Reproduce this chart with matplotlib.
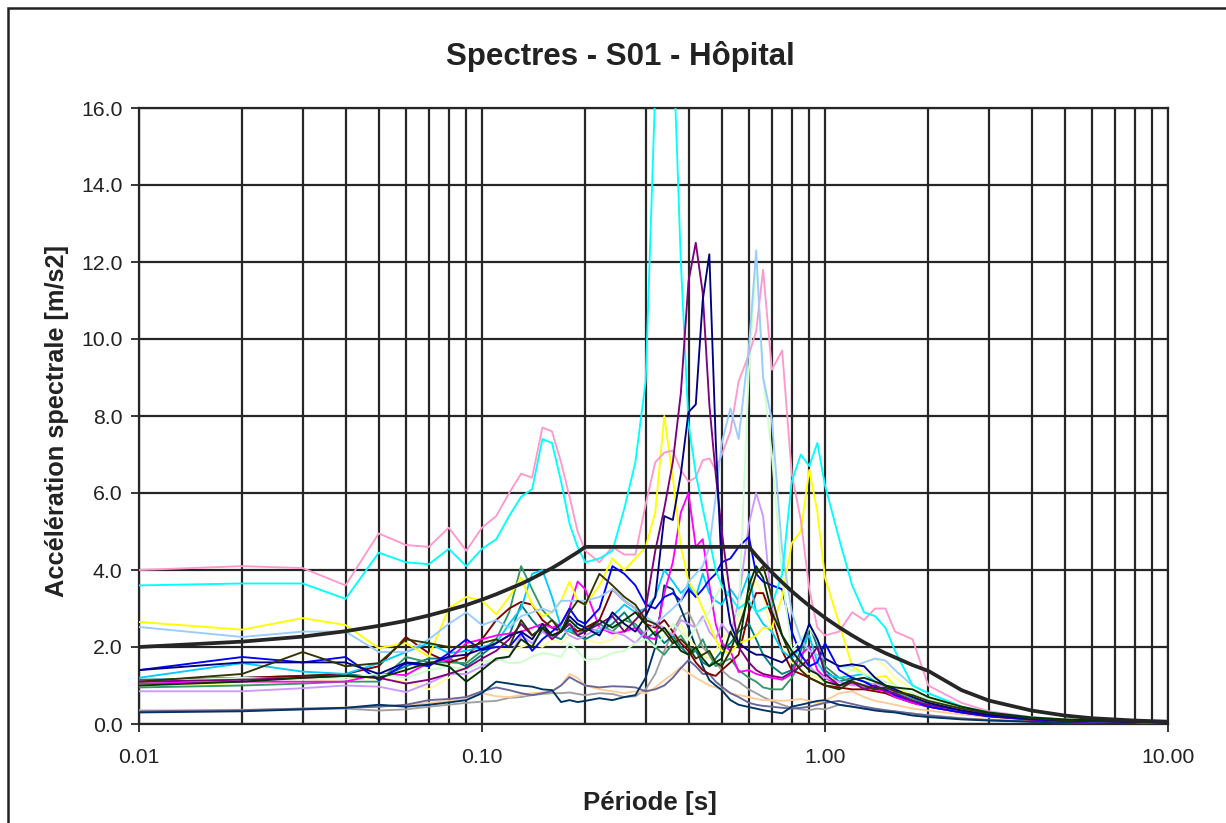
import matplotlib
matplotlib.use("Agg")
import matplotlib.pyplot as plt
from matplotlib.patches import Rectangle
from matplotlib.ticker import FixedLocator, FormatStrFormatter, NullFormatter

plt.rcParams['font.family'] = ['Liberation Sans', 'DejaVu Sans']

# périodes communes [s]
periods = [0.01, 0.02, 0.03, 0.04, 0.05, 0.06, 0.07, 0.08, 0.09, 0.10,
           0.11, 0.12, 0.13, 0.14, 0.15, 0.16, 0.17, 0.18, 0.19, 0.20,
           0.22, 0.24, 0.26, 0.28, 0.30, 0.32, 0.34, 0.36, 0.38, 0.40,
           0.42, 0.44, 0.46, 0.48, 0.50, 0.53, 0.56, 0.60, 0.63, 0.66,
           0.70, 0.75, 0.80, 0.85, 0.90, 0.95, 1.00, 1.10, 1.20, 1.30,
           1.40, 1.50, 1.60, 1.80, 2.00, 2.50, 3.00, 4.00, 5.00, 6.00, 8.00, 10.0]

# spectre de dimensionnement
design = [2.00, 2.14, 2.27, 2.41, 2.55, 2.68, 2.82, 2.96, 3.09, 3.23,
          3.37, 3.51, 3.64, 3.78, 3.92, 4.05, 4.19, 4.33, 4.46, 4.60,
          4.60, 4.60, 4.60, 4.60, 4.60, 4.60, 4.60, 4.60, 4.60, 4.60,
          4.60, 4.60, 4.60, 4.60, 4.60, 4.60, 4.60, 4.60, 4.38, 4.18,
          3.94, 3.68, 3.45, 3.25, 3.07, 2.91, 2.76, 2.51, 2.30, 2.12,
          1.97, 1.84, 1.73, 1.53, 1.38, 0.88, 0.61, 0.35, 0.22, 0.15, 0.09, 0.06]

# spectres des accélérogrammes
sa_pink = [4.0, 4.1, 4.05, 3.6, 4.95, 4.65, 4.6, 5.1, 4.5, 5.1,
           5.4, 6.0, 6.5, 6.4, 7.7, 7.6, 6.8, 5.9, 5.0, 4.5,
           4.2, 4.6, 4.4, 4.4, 5.7, 6.8, 7.05, 7.1, 6.6, 6.3,
           6.4, 6.85, 6.9, 6.6, 7.0, 7.6, 8.9, 9.6, 10.2, 11.8,
           9.2, 9.7, 6.5, 5.3, 3.5, 2.5, 2.3, 2.4, 2.9, 2.7,
           3.0, 3.0, 2.4, 2.2, 1.0, 0.55, 0.33, 0.18, 0.12, 0.09, 0.06, 0.04]
sa_cyan = [3.6, 3.65, 3.65, 3.25, 4.45, 4.2, 4.15, 4.55, 4.1, 4.55,
           4.8, 5.4, 5.9, 6.1, 7.4, 7.3, 6.3, 5.2, 4.6, 4.2,
           4.3, 4.5, 5.6, 6.8, 8.9, 16.5, 19.0, 18.0, 12.0, 7.8,
           6.5, 5.6, 4.8, 4.0, 3.6, 3.3, 3.0, 3.2, 2.9, 3.0,
           3.1, 3.9, 6.3, 7.0, 6.7, 7.3, 6.2, 4.8, 3.6, 2.9,
           2.8, 2.5, 1.9, 1.0, 0.8, 0.45, 0.3, 0.17, 0.11, 0.08, 0.05, 0.04]
sa_yellow = [2.65, 2.45, 2.75, 2.57, 1.97, 2.1, 1.75, 3.0, 3.3, 3.2,
             2.85, 3.3, 3.8, 3.1, 2.8, 2.9, 3.2, 3.7, 3.2, 3.1,
             3.6, 4.3, 4.0, 4.3, 4.6, 5.5, 8.0, 6.4, 4.6, 3.7,
             3.4, 3.0, 2.6, 2.2, 1.9, 1.85, 2.1, 2.2, 2.3, 2.5,
             2.5, 3.3, 4.7, 5.0, 6.6, 5.5, 3.8, 2.6, 1.5, 1.3,
             1.2, 1.25, 1.0, 0.7, 0.6, 0.4, 0.28, 0.16, 0.1, 0.08, 0.05, 0.04]
sa_lightblue = [2.52, 2.26, 2.4, 2.4, 1.87, 1.87, 2.2, 2.6, 2.9, 2.57,
                2.7, 2.5, 2.8, 2.9, 3.0, 2.9, 3.2, 3.2, 3.2, 3.2,
                3.3, 3.5, 3.2, 3.0, 2.8, 2.6, 2.8, 3.0, 3.2, 3.7,
                3.9, 4.1, 4.6, 5.9, 7.3, 8.2, 7.4, 9.8, 12.3, 9.0,
                7.9, 4.5, 2.9, 2.2, 1.9, 1.8, 1.7, 1.5, 1.5, 1.6,
                1.7, 1.65, 1.4, 1.0, 0.8, 0.45, 0.3, 0.15, 0.1, 0.07, 0.05, 0.03]
sa_purple = [1.1, 1.15, 1.2, 1.25, 1.2, 1.05, 1.15, 1.3, 1.45, 1.7,
             1.9, 2.2, 2.6, 2.3, 2.5, 2.2, 2.4, 2.6, 2.3, 2.4,
             2.6, 2.8, 2.4, 2.7, 3.0, 4.5, 5.6, 6.8, 8.6, 11.5,
             12.5, 11.2, 8.3, 6.5, 5.0, 3.3, 2.0, 1.6, 1.4, 1.3,
             1.25, 1.2, 1.35, 1.5, 1.7, 2.0, 1.3, 1.0, 1.1, 0.9,
             1.0, 0.85, 0.8, 0.6, 0.5, 0.35, 0.25, 0.14, 0.09, 0.07, 0.05, 0.03]
sa_navy = [1.4, 1.6, 1.6, 1.6, 1.3, 1.6, 1.55, 1.75, 1.8, 1.95,
           2.1, 2.3, 2.4, 2.2, 2.6, 2.3, 2.4, 2.8, 2.6, 2.5,
           2.3, 2.9, 2.6, 2.4, 2.8, 3.3, 5.4, 5.3, 6.5, 8.1,
           8.3, 11.0, 12.2, 7.4, 4.0, 2.6, 2.1, 1.9, 1.8, 1.8,
           1.7, 1.6, 1.8, 2.0, 2.6, 2.2, 1.7, 1.5, 1.55, 1.5,
           1.2, 1.0, 0.9, 0.7, 0.55, 0.35, 0.24, 0.13, 0.09, 0.07, 0.05, 0.03]
sa_lavender = [0.85, 0.85, 0.93, 1.0, 0.97, 0.83, 1.06, 1.3, 1.3, 1.5,
               1.66, 1.74, 2.3, 2.1, 2.4, 2.2, 2.5, 2.3, 2.2, 2.3,
               2.5, 2.4, 2.3, 2.1, 2.4, 2.6, 2.5, 2.3, 2.7, 2.6,
               2.5, 2.8, 2.4, 2.2, 2.6, 2.3, 3.2, 5.2, 6.0, 5.4,
               3.0, 2.3, 1.9, 1.6, 1.5, 1.3, 1.2, 1.1, 1.0, 1.0,
               1.05, 0.95, 0.8, 0.6, 0.5, 0.35, 0.25, 0.14, 0.1, 0.07, 0.05, 0.04]
sa_magenta = [1.05, 1.1, 1.1, 1.1, 1.3, 1.27, 1.6, 1.66, 2.1, 2.2,
              2.3, 2.35, 2.4, 2.5, 2.6, 2.5, 2.6, 3.0, 3.7, 3.5,
              2.5, 2.35, 2.4, 2.5, 2.26, 2.2, 3.4, 4.2, 5.5, 6.0,
              4.6, 4.8, 3.6, 2.6, 2.1, 1.9, 1.35, 1.4, 1.3, 1.25,
              1.2, 1.15, 1.3, 1.8, 2.0, 1.4, 1.2, 1.0, 1.05, 0.95,
              0.9, 0.85, 0.7, 0.55, 0.45, 0.3, 0.22, 0.12, 0.08, 0.06, 0.04, 0.03]
sa_blue = [1.4, 1.74, 1.6, 1.74, 1.14, 1.58, 1.5, 1.84, 2.2, 1.92,
           2.0, 2.0, 2.36, 1.9, 2.2, 2.4, 2.6, 3.0, 2.7, 2.6,
           3.0, 4.1, 3.9, 3.6, 3.1, 3.0, 3.3, 3.4, 3.2, 3.5,
           3.3, 3.5, 3.74, 3.9, 4.2, 4.3, 4.6, 4.86, 3.9, 3.7,
           3.6, 3.5, 2.4, 1.8, 1.5, 1.6, 2.1, 1.4, 1.2, 1.1,
           0.95, 0.9, 0.75, 0.6, 0.45, 0.3, 0.2, 0.12, 0.08, 0.06, 0.04, 0.03]
sa_olive = [1.1, 1.3, 1.87, 1.5, 1.58, 2.2, 2.1, 2.0, 2.0, 2.1,
            2.2, 2.0, 2.7, 2.3, 2.5, 2.7, 2.4, 2.9, 3.2, 3.1,
            3.9, 3.6, 3.3, 3.1, 2.7, 2.6, 2.4, 2.1, 2.2, 2.0,
            1.7, 1.8, 1.9, 1.6, 1.5, 1.9, 2.5, 3.3, 3.9, 4.1,
            3.3, 2.3, 1.7, 1.4, 1.2, 1.1, 1.0, 0.9, 1.1, 1.0,
            0.9, 0.95, 0.85, 0.75, 0.6, 0.4, 0.28, 0.15, 0.1, 0.08, 0.06, 0.05]
sa_darkgreen = [1.0, 1.1, 1.2, 1.25, 1.2, 1.4, 1.6, 1.5, 1.1, 1.4,
                1.7, 1.75, 2.2, 2.0, 2.5, 2.3, 2.4, 2.7, 2.5, 2.4,
                2.7, 2.5, 2.7, 2.9, 2.6, 2.3, 2.5, 2.2, 1.9, 1.8,
                2.0, 1.7, 1.5, 1.6, 1.7, 2.4, 2.0, 3.6, 4.1, 3.8,
                2.9, 2.3, 1.9, 1.6, 1.4, 1.3, 1.1, 1.0, 1.15, 1.2,
                1.1, 1.0, 0.95, 0.9, 0.7, 0.45, 0.3, 0.17, 0.12, 0.1, 0.08, 0.06]
sa_skyblue = [1.2, 1.58, 1.36, 1.3, 1.58, 1.87, 2.1, 1.84, 1.9, 2.0,
              2.1, 2.6, 3.0, 3.9, 4.0, 3.3, 2.5, 2.4, 2.6, 2.5,
              2.4, 2.8, 3.1, 2.9, 3.0, 3.3, 4.0, 3.7, 3.4, 3.6,
              3.3, 3.9, 3.4, 3.2, 3.1, 3.5, 3.2, 3.9, 2.9, 2.6,
              2.4, 1.9, 1.7, 2.0, 2.3, 1.6, 1.3, 1.2, 1.25, 1.3,
              1.1, 1.0, 0.9, 0.7, 0.55, 0.38, 0.25, 0.14, 0.09, 0.07, 0.05, 0.04]
sa_seagreen = [0.95, 1.0, 1.05, 1.1, 1.1, 1.74, 1.6, 1.6, 1.58, 1.9,
               2.2, 2.9, 4.1, 3.5, 2.96, 2.7, 2.5, 2.4, 2.3, 2.5,
               2.6, 2.4, 2.7, 2.6, 2.3, 2.0, 1.8, 2.1, 2.3, 2.0,
               1.9, 2.2, 1.8, 1.5, 1.6, 1.7, 1.4, 1.2, 1.1, 0.95,
               0.9, 0.9, 1.2, 1.6, 2.5, 2.2, 1.5, 1.2, 1.1, 1.0,
               0.95, 0.9, 0.8, 0.65, 0.5, 0.33, 0.23, 0.13, 0.09, 0.07, 0.05, 0.04]
sa_darkred = [1.1, 1.2, 1.25, 1.3, 1.5, 2.26, 1.84, 1.6, 1.74, 2.2,
              2.7, 3.0, 3.17, 3.1, 2.7, 2.5, 2.4, 2.6, 2.4, 2.5,
              2.7, 3.5, 3.2, 3.0, 2.6, 2.5, 2.7, 2.4, 2.1, 1.9,
              1.6, 1.4, 1.3, 1.25, 1.4, 1.6, 1.8, 2.9, 3.4, 3.4,
              2.8, 1.9, 1.4, 1.3, 1.2, 1.1, 1.0, 0.95, 0.9, 0.9,
              0.85, 0.8, 0.7, 0.55, 0.45, 0.3, 0.2, 0.11, 0.08, 0.06, 0.04, 0.03]
sa_lightgreen = [1.1, 1.2, 1.15, 1.2, 1.3, 1.2, 1.4, 1.5, 1.4, 1.6,
                 1.7, 1.58, 1.6, 1.75, 1.84, 1.8, 1.74, 2.1, 1.9, 1.66,
                 1.7, 1.84, 1.9, 2.1, 2.2, 2.0, 2.3, 2.6, 2.4, 2.2,
                 2.5, 2.7, 2.9, 3.3, 3.6, 3.0, 2.8, 9.2, 12.0, 9.0,
                 7.0, 3.8, 1.9, 2.2, 2.5, 2.2, 1.7, 1.5, 1.4, 1.3,
                 1.2, 1.1, 1.0, 0.8, 0.65, 0.4, 0.28, 0.15, 0.1, 0.08, 0.06, 0.05]
sa_lightyellow = [1.0, 1.05, 1.1, 1.15, 1.2, 1.1, 0.9, 1.2, 1.6, 1.9,
                  2.0, 1.9, 2.0, 2.1, 2.0, 2.2, 2.1, 2.3, 2.2, 2.2,
                  2.1, 2.2, 2.5, 2.7, 2.6, 2.4, 2.5, 2.3, 2.6, 2.2,
                  2.0, 1.8, 1.7, 1.9, 2.2, 2.4, 2.8, 3.4, 3.7, 3.3,
                  2.4, 2.0, 1.6, 1.4, 1.3, 1.2, 1.1, 1.2, 1.4, 1.6,
                  1.7, 1.5, 1.2, 0.9, 0.7, 0.4, 0.28, 0.15, 0.1, 0.07, 0.05, 0.04]
sa_teal = [1.15, 1.2, 1.25, 1.3, 1.2, 1.5, 1.7, 1.7, 1.5, 1.8,
           2.1, 2.3, 3.1, 2.7, 2.4, 2.3, 2.2, 2.5, 2.3, 2.2,
           2.4, 2.6, 2.9, 2.5, 2.2, 2.4, 2.1, 2.3, 2.0, 1.8,
           1.9, 1.6, 1.5, 1.7, 1.9, 2.1, 2.4, 2.6, 2.2, 1.8,
           1.5, 1.3, 1.4, 1.9, 2.6, 2.0, 1.4, 1.1, 1.2, 1.1,
           1.0, 0.9, 0.85, 0.7, 0.55, 0.35, 0.24, 0.13, 0.09, 0.07, 0.05, 0.04]
sa_darkblue = [0.3, 0.33, 0.38, 0.42, 0.5, 0.45, 0.5, 0.56, 0.62, 0.8,
               1.1, 1.05, 1.0, 0.97, 0.9, 0.88, 0.57, 0.62, 0.57, 0.6,
               0.67, 0.62, 0.7, 0.75, 1.2, 2.0, 3.6, 3.5, 3.0, 2.5,
               2.0, 1.5, 1.14, 1.0, 0.88, 0.62, 0.5, 0.44, 0.4, 0.36,
               0.32, 0.28, 0.45, 0.5, 0.55, 0.6, 0.62, 0.5, 0.45, 0.4,
               0.35, 0.32, 0.3, 0.22, 0.18, 0.12, 0.09, 0.06, 0.04, 0.03, 0.02, 0.02]
sa_peach = [0.35, 0.37, 0.4, 0.43, 0.45, 0.48, 0.55, 0.6, 0.65, 0.8,
            0.72, 0.7, 0.75, 0.8, 0.82, 0.86, 1.0, 1.3, 1.2, 1.0,
            0.9, 0.85, 0.8, 0.85, 0.8, 0.95, 1.14, 1.3, 1.48, 1.32,
            1.2, 1.1, 1.0, 0.95, 0.9, 0.8, 0.75, 0.7, 0.65, 0.62,
            0.62, 0.6, 0.62, 0.65, 0.6, 0.55, 0.6, 0.8, 0.85, 0.7,
            0.6, 0.55, 0.5, 0.4, 0.35, 0.25, 0.18, 0.1, 0.07, 0.05, 0.04, 0.03]
sa_gray = [0.35, 0.36, 0.38, 0.4, 0.35, 0.38, 0.45, 0.5, 0.55, 0.58,
           0.6, 0.68, 0.7, 0.75, 0.78, 0.8, 0.8, 0.82, 0.78, 0.75,
           0.8, 0.78, 0.7, 0.72, 0.9, 1.3, 1.9, 2.4, 2.8, 2.9,
           2.5, 2.0, 1.8, 1.6, 1.4, 1.2, 1.1, 0.9, 0.8, 0.7,
           0.6, 0.5, 0.42, 0.38, 0.36, 0.4, 0.38, 0.5, 0.45, 0.4,
           0.38, 0.35, 0.32, 0.27, 0.23, 0.15, 0.11, 0.07, 0.05, 0.04, 0.03, 0.02]
sa_bluegray = [0.33, 0.36, 0.4, 0.42, 0.45, 0.5, 0.62, 0.65, 0.7, 0.85,
               0.95, 0.88, 0.8, 0.75, 0.8, 0.85, 1.0, 1.22, 1.1, 1.0,
               0.95, 0.98, 0.97, 0.95, 0.85, 0.9, 1.0, 1.2, 1.45, 1.66,
               1.5, 1.3, 1.3, 1.1, 0.97, 0.8, 0.7, 0.55, 0.5, 0.47,
               0.45, 0.42, 0.4, 0.42, 0.45, 0.5, 0.55, 0.6, 0.52, 0.45,
               0.4, 0.36, 0.33, 0.27, 0.22, 0.14, 0.1, 0.06, 0.04, 0.03, 0.02, 0.02]

series = [
    (sa_gray, '#A0A0A0'), (sa_peach, '#FFCC99'), (sa_bluegray, '#666699'),
    (sa_darkblue, '#003366'), (sa_lightyellow, '#FFFF99'), (sa_teal, '#008080'),
    (sa_seagreen, '#339966'), (sa_darkred, '#800000'), (sa_skyblue, '#00CCFF'),
    (sa_magenta, '#FF00FF'), (sa_lavender, '#CC99FF'), (sa_blue, '#0000FF'),
    (sa_yellow, '#FFFF00'), (sa_lightgreen, '#CCFFCC'), (sa_pink, '#FF99CC'),
    (sa_lightblue, '#99CCFF'), (sa_cyan, '#00FFFF'), (sa_purple, '#800080'),
    (sa_navy, '#000080'), (sa_olive, '#333300'), (sa_darkgreen, '#003300'),
]

fig = plt.figure(figsize=(12.26, 8.23), dpi=100)
ax = fig.add_axes([139 / 1226, 1 - 724 / 823, (1168 - 139) / 1226, (724 - 108) / 823])

grid_c = '#262626'
for vals, c in series:
    ax.plot(periods, vals, color=c, lw=1.35, zorder=3)
ax.plot(periods, design, color='#262626', lw=2.7, zorder=4)

ax.set_xscale('log')
ax.set_xlim(0.01, 10)
ax.set_ylim(0, 16)
ax.set_yticks([0, 2, 4, 6, 8, 10, 12, 14, 16])
ax.yaxis.set_major_formatter(FormatStrFormatter('%.1f'))
ax.xaxis.set_major_locator(FixedLocator([0.01, 0.1, 1, 10]))
ax.xaxis.set_major_formatter(FormatStrFormatter('%.2f'))
minors = [m * d for d in (0.01, 0.1, 1) for m in range(2, 10)]
ax.xaxis.set_minor_locator(FixedLocator(minors))
ax.xaxis.set_minor_formatter(NullFormatter())

ax.grid(True, which='both', axis='x', color=grid_c, lw=1.6, zorder=1)
ax.grid(True, which='major', axis='y', color=grid_c, lw=1.6, zorder=1)
ax.tick_params(axis='x', which='minor', length=0)
ax.tick_params(axis='x', which='major', length=6, width=1.3, color=grid_c,
               labelsize=15.3, pad=11, labelcolor='#222222')
ax.tick_params(axis='y', length=6, width=1.3, color=grid_c,
               labelsize=15.3, pad=6, labelcolor='#222222')
for s in ax.spines.values():
    s.set_color(grid_c)
    s.set_linewidth(1.6)

fig.text(620 / 1226, 1 - 57 / 823, 'Spectres - S01 - Hôpital', ha='center', va='center',
         fontsize=22.5, fontweight='bold', color='#222222')
fig.text(57 / 1226, 1 - 421 / 823, 'Accélération spectrale [m/s2]', ha='center', va='center',
         rotation=90, fontsize=18.3, fontweight='bold', color='#222222')
fig.text(650 / 1226, 1 - 803 / 823, 'Période [s]', ha='center', va='center',
         fontsize=18.6, fontweight='bold', color='#222222')

# cadre du graphique
fig.patches.append(Rectangle((8 / 1226, -0.2), 1.5, 1 - 8 / 823 + 0.2, transform=fig.transFigure,
                             fill=False, ec='#222222', lw=1.8))

fig.savefig('out.png', dpi=100)
